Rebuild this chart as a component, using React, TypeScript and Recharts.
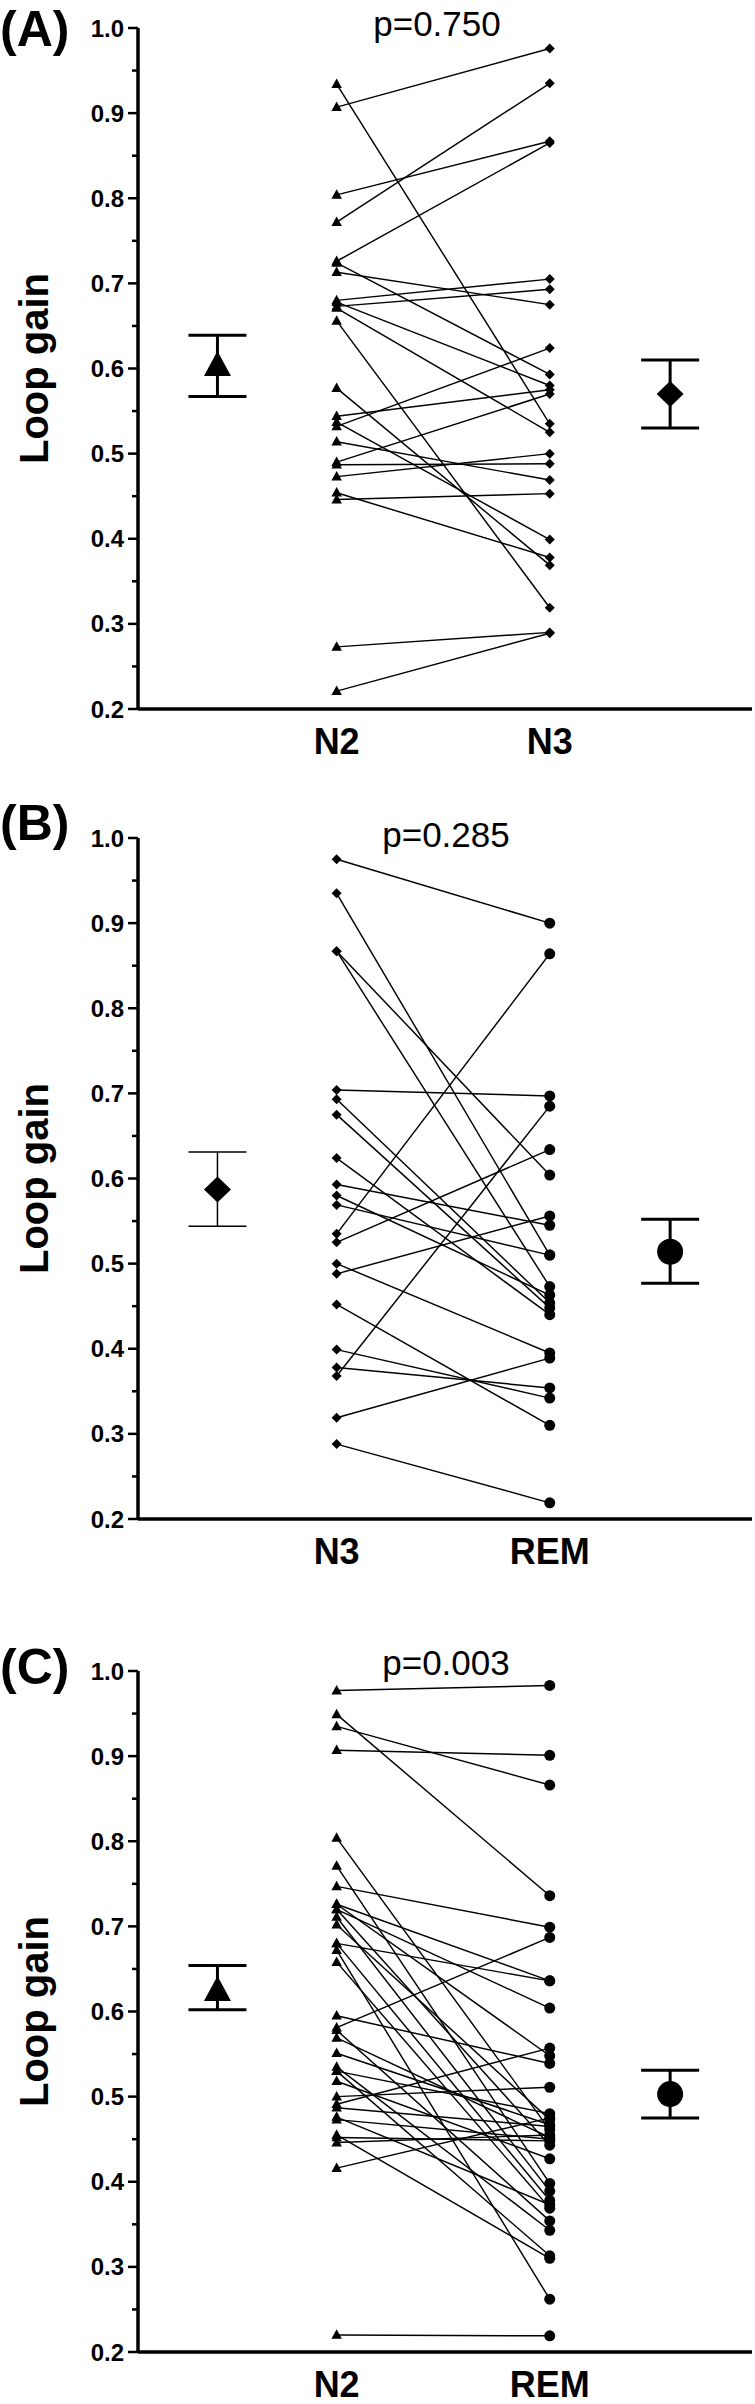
import React from 'react';
import { ComposedChart, Line, Scatter, XAxis, YAxis, ErrorBar } from 'recharts';

const FONT = '"Liberation Sans", Arial, Helvetica, sans-serif';

// ---------- axes / categories ----------
const X_DOMAIN: [number, number] = [0, 5.1];
const X_MEAN_LEFT = 0.66;
const X_LEFT = 1.65;
const X_RIGHT = 3.42;
const X_MEAN_RIGHT = 4.42;

const Y_DOMAIN: [number, number] = [0.2, 1.0];
const Y_MAJOR_TICKS = [0.2, 0.3, 0.4, 0.5, 0.6, 0.7, 0.8, 0.9, 1.0];
const Y_MINOR_TICKS = [0.25, 0.35, 0.45, 0.55, 0.65, 0.75, 0.85, 0.95];
const Y_LABEL = 'Loop gain';

// ---------- Panel A: N2 vs N3 ----------
const A_CATEGORIES = ['N2', 'N3'];
const A_N2 = [0.907, 0.772, 0.804, 0.726, 0.934, 0.713, 0.680, 0.673, 0.656, 0.544, 0.532, 0.514, 0.490, 0.487, 0.473, 0.454, 0.446, 0.273, 0.221, 0.724, 0.678, 0.671, 0.577, 0.537];
const A_N3 = [0.976, 0.935, 0.867, 0.865, 0.535, 0.675, 0.705, 0.693, 0.319, 0.575, 0.624, 0.469, 0.570, 0.488, 0.500, 0.378, 0.453, 0.290, 0.289, 0.593, 0.580, 0.525, 0.369, 0.399];
const A_MEANS = [0.603, 0.570];
const A_LOWS = [0.567, 0.530];
const A_HIGHS = [0.639, 0.610];
const A_P = 'p=0.750';

// ---------- Panel B: N3 vs REM ----------
const B_CATEGORIES = ['N3', 'REM'];
const B_N3 = [0.975, 0.935, 0.867, 0.867, 0.704, 0.693, 0.675, 0.624, 0.593, 0.580, 0.569, 0.535, 0.525, 0.500, 0.488, 0.452, 0.399, 0.378, 0.368, 0.319, 0.288];
const B_REM = [0.900, 0.510, 0.604, 0.473, 0.697, 0.454, 0.448, 0.440, 0.545, 0.463, 0.510, 0.864, 0.634, 0.395, 0.556, 0.310, 0.342, 0.354, 0.685, 0.389, 0.219];
const B_MEANS = [0.587, 0.514];
const B_LOWS = [0.544, 0.477];
const B_HIGHS = [0.631, 0.552];
const B_P = 'p=0.285';

// ---------- Panel C: N2 vs REM ----------
const C_CATEGORIES = ['N2', 'REM'];
const C_N2 = [0.977, 0.949, 0.935, 0.907, 0.804, 0.771, 0.747, 0.726, 0.726, 0.720, 0.720, 0.711, 0.702, 0.680, 0.680, 0.672, 0.658, 0.595, 0.581, 0.578, 0.569, 0.551, 0.535, 0.530, 0.530, 0.518, 0.500, 0.491, 0.487, 0.476, 0.473, 0.455, 0.452, 0.446, 0.416, 0.220];
const C_REM = [0.983, 0.736, 0.866, 0.901, 0.461, 0.398, 0.699, 0.636, 0.548, 0.604, 0.443, 0.389, 0.473, 0.636, 0.378, 0.262, 0.369, 0.539, 0.687, 0.354, 0.452, 0.467, 0.343, 0.480, 0.313, 0.427, 0.511, 0.557, 0.465, 0.373, 0.450, 0.310, 0.448, 0.455, 0.475, 0.219];
const C_MEANS = [0.624, 0.503];
const C_LOWS = [0.602, 0.475];
const C_HIGHS = [0.654, 0.531];
const C_P = 'p=0.003';

const ALL_Y_TICKS = [...Y_MAJOR_TICKS, ...Y_MINOR_TICKS].sort((a, b) => a - b);
const PLOT_H = 681;

type Kind = 'triangle' | 'diamond' | 'circle';

function markerShape(kind: Kind, big: boolean) {
  return (p: any) => {
    const { cx, cy } = p;
    if (cx == null || cy == null) return <g />;
    if (kind === 'circle') return <circle cx={cx} cy={cy} r={big ? 13 : 5.5} fill="#000" />;
    if (kind === 'diamond') {
      const w = big ? 13.5 : 5;
      const h = big ? 13 : 5;
      return <path d={`M${cx},${cy - h} L${cx + w},${cy} L${cx},${cy + h} L${cx - w},${cy} Z`} fill="#000" />;
    }
    const w = big ? 27 : 10.5;
    const h = big ? 25 : 9.5;
    return (
      <path
        d={`M${cx},${cy - h * 0.6} L${cx + w / 2},${cy + h * 0.4} L${cx - w / 2},${cy + h * 0.4} Z`}
        fill="#000"
      />
    );
  };
}

const YTick = (props: any) => {
  const { x, y, payload } = props;
  const v = payload.value as number;
  const major = Y_MAJOR_TICKS.some((t) => Math.abs(t - v) < 1e-6);
  return (
    <g>
      <line x1={x - (major ? 10 : 6)} x2={x} y1={y} y2={y} stroke="#000" strokeWidth={2.5} />
      {major && (
        <text x={x - 14} y={y + 8.5} textAnchor="end" fontFamily={FONT} fontWeight="bold" fontSize={24} fill="#000">
          {v.toFixed(1)}
        </text>
      )}
    </g>
  );
};

type PanelProps = {
  top: number;
  plotTop: number;
  height: number;
  cats: string[];
  left: number[];
  right: number[];
  leftKind: Kind;
  rightKind: Kind;
  means: number[];
  lows: number[];
  highs: number[];
  leftErrStroke: number;
  rightErrStroke: number;
};

function Panel(pp: PanelProps) {
  const { top, plotTop, height, cats, left, right } = pp;
  const leftPts = left.map((v) => ({ x: X_LEFT, y: v }));
  const rightPts = right.map((v) => ({ x: X_RIGHT, y: v }));
  const meanL = [{ x: X_MEAN_LEFT, y: pp.means[0], err: [pp.means[0] - pp.lows[0], pp.highs[0] - pp.means[0]] }];
  const meanR = [{ x: X_MEAN_RIGHT, y: pp.means[1], err: [pp.means[1] - pp.lows[1], pp.highs[1] - pp.means[1]] }];
  const xAxisH = height - plotTop - PLOT_H;

  const XTick = (tp: any) => {
    const { x, y, payload } = tp;
    const label = Math.abs(payload.value - X_LEFT) < 1e-6 ? cats[0] : cats[1];
    return (
      <text x={x} y={y + 45} textAnchor="middle" fontFamily={FONT} fontWeight="bold" fontSize={36} fill="#000">
        {label}
      </text>
    );
  };

  return (
    <div style={{ position: 'absolute', left: 0, top, width: 755, height }}>
      <ComposedChart width={755} height={height} margin={{ top: plotTop, right: 3, left: 0, bottom: 0 }}>
        <XAxis
          type="number"
          dataKey="x"
          domain={X_DOMAIN}
          ticks={[X_LEFT, X_RIGHT]}
          interval={0}
          tickSize={0}
          tickMargin={0}
          tickLine={false}
          axisLine={{ stroke: '#000', strokeWidth: 3.5 }}
          height={xAxisH}
          tick={XTick}
          allowDataOverflow
        />
        <YAxis
          type="number"
          dataKey="y"
          domain={Y_DOMAIN}
          ticks={ALL_Y_TICKS}
          interval={0}
          tickSize={0}
          tickMargin={0}
          tickLine={false}
          axisLine={{ stroke: '#000', strokeWidth: 3.5 }}
          width={138}
          tick={YTick}
          allowDataOverflow
        />
        {left.map((a, i) => (
          <Line
            key={`l${i}`}
            data={[{ x: X_LEFT, y: a }, { x: X_RIGHT, y: right[i] }]}
            dataKey="y"
            type="linear"
            stroke="#000"
            strokeWidth={1.45}
            dot={false}
            activeDot={false}
            isAnimationActive={false}
          />
        ))}
        <Scatter data={leftPts} dataKey="y" shape={markerShape(pp.leftKind, false)} isAnimationActive={false} />
        <Scatter data={rightPts} dataKey="y" shape={markerShape(pp.rightKind, false)} isAnimationActive={false} />
        <Scatter data={meanL} dataKey="y" shape={markerShape(pp.leftKind, true)} isAnimationActive={false}>
          <ErrorBar dataKey="err" direction="y" width={29} stroke="#000" strokeWidth={pp.leftErrStroke} isAnimationActive={false} />
        </Scatter>
        <Scatter data={meanR} dataKey="y" shape={markerShape(pp.rightKind, true)} isAnimationActive={false}>
          <ErrorBar dataKey="err" direction="y" width={29} stroke="#000" strokeWidth={pp.rightErrStroke} isAnimationActive={false} />
        </Scatter>
      </ComposedChart>
    </div>
  );
}

// page-level annotation layout (positions only)
const PANEL_TEXT = [
  { letter: '(A)', letterBaseline: 46, p: A_P, pX: 437, pBaseline: 36, labelCenterY: 28 + PLOT_H / 2 },
  { letter: '(B)', letterBaseline: 840, p: B_P, pX: 446, pBaseline: 847, labelCenterY: 838 + PLOT_H / 2 },
  { letter: '(C)', letterBaseline: 1684, p: C_P, pX: 446, pBaseline: 1675, labelCenterY: 1671 + PLOT_H / 2 },
];

export default function App() {
  return (
    <div style={{ position: 'absolute', left: 0, top: 0, width: 755, height: 2404, background: '#fff', overflow: 'hidden' }}>
      <Panel
        top={0}
        plotTop={28}
        height={769}
        cats={A_CATEGORIES}
        left={A_N2}
        right={A_N3}
        leftKind="triangle"
        rightKind="diamond"
        means={A_MEANS}
        lows={A_LOWS}
        highs={A_HIGHS}
        leftErrStroke={3}
        rightErrStroke={3}
      />
      <Panel
        top={800}
        plotTop={38}
        height={779}
        cats={B_CATEGORIES}
        left={B_N3}
        right={B_REM}
        leftKind="diamond"
        rightKind="circle"
        means={B_MEANS}
        lows={B_LOWS}
        highs={B_HIGHS}
        leftErrStroke={1.5}
        rightErrStroke={3}
      />
      <Panel
        top={1600}
        plotTop={71}
        height={804}
        cats={C_CATEGORIES}
        left={C_N2}
        right={C_REM}
        leftKind="triangle"
        rightKind="circle"
        means={C_MEANS}
        lows={C_LOWS}
        highs={C_HIGHS}
        leftErrStroke={3}
        rightErrStroke={3}
      />
      <svg width={755} height={2404} style={{ position: 'absolute', left: 0, top: 0, pointerEvents: 'none' }}>
        {PANEL_TEXT.map((t) => (
          <g key={t.letter}>
            <text x={0} y={t.letterBaseline} fontFamily={FONT} fontWeight="bold" fontSize={50} fill="#000">
              {t.letter}
            </text>
            <text x={t.pX} y={t.pBaseline} textAnchor="middle" fontFamily={FONT} fontSize={35} fill="#000">
              {t.p}
            </text>
            <text
              transform={`translate(48, ${t.labelCenterY}) rotate(-90)`}
              textAnchor="middle"
              fontFamily={FONT}
              fontWeight="bold"
              fontSize={40}
              fill="#000"
            >
              {Y_LABEL}
            </text>
          </g>
        ))}
      </svg>
    </div>
  );
}
